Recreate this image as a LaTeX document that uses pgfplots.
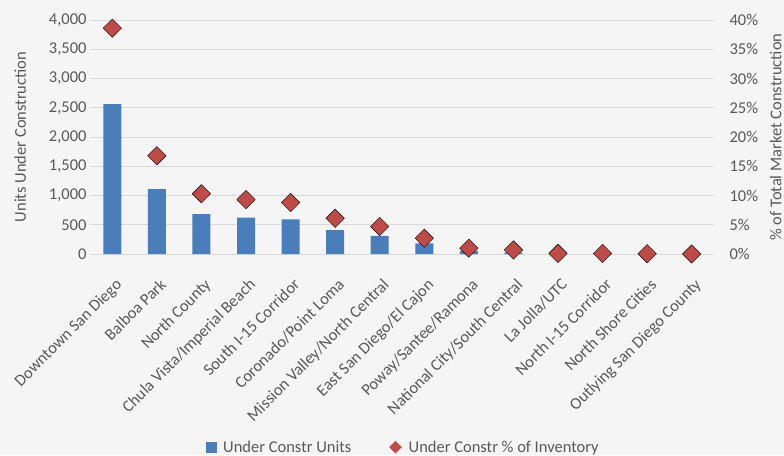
\documentclass[border=0pt]{standalone}
\usepackage{pgfplots}
\pgfplotsset{compat=1.18}
\usepackage{fontspec}
\setmainfont{Carlito}
\usetikzlibrary{backgrounds}
\definecolor{barblue}{HTML}{4A7EBB}
\definecolor{dred}{HTML}{BE4B48}
\definecolor{gridgray}{HTML}{D9D9D9}
\definecolor{txt}{HTML}{595959}
\definecolor{bg}{HTML}{F5F5F5}
\begin{document}
\begin{tikzpicture}[font=\fontsize{16.5}{19}\selectfont]
\pgfplotsset{
  common/.style={
    scale only axis, width=624pt, height=234pt,
    at={(0,0)}, anchor=south west,
    xmin=-0.5, xmax=13.5,
    axis line style={draw=none},
    major tick length=0pt,
    tick label style={text=txt},
    label style={text=txt},
    /pgf/number format/assume math mode=true,
  }
}
\begin{axis}[common,
  ymin=0, ymax=4000, ytick={0,500,...,4000},
  ymajorgrids, grid style={gridgray, line width=0.9pt},
  scaled y ticks=false,
  yticklabel style={/pgf/number format/.cd, 1000 sep={,}},
  xtick={0,...,13},
  xticklabels={Downtown San Diego, Balboa Park, North County,
    Chula Vista/Imperial Beach, South I-15 Corridor, Coronado/Point Loma,
    Mission Valley/North Central, East San Diego/El Cajon,
    Poway/Santee/Ramona, National City/South Central, La Jolla/UTC,
    North I-15 Corridor, North Shore Cities, Outlying San Diego County},
  xticklabel style={rotate=45, anchor=north east, inner sep=1pt, xshift=-14pt, yshift=-17pt},
  ylabel={Units Under Construction},
  ylabel style={at={(axis description cs:-0.112,0.5)}, anchor=center, rotate=0},
]
\addplot[ybar, bar width=18pt, fill=barblue, draw=none] coordinates {
  (0,2560) (1,1110) (2,680) (3,620) (4,590) (5,410) (6,310)
  (7,180) (8,55) (9,25) (10,12) (11,0) (12,0) (13,0)
};
\end{axis}
\begin{axis}[common,
  ymin=0, ymax=40, ytick={0,5,...,40},
  yticklabel pos=right, xtick=\empty,
  yticklabel={\pgfmathprintnumber{\tick}\%},
  yticklabel style={anchor=west, xshift=12pt},
  ylabel={\% of Total Market Construction},
  ylabel style={at={(axis description cs:1.099,0.5)}, anchor=center, rotate=0},
  legend columns=2,
  legend style={at={(0.502,-0.825)}, anchor=center, draw=none, fill=none,
    text=txt, column sep=5pt, /tikz/every even column/.append style={column sep=36pt}},
]
\addlegendimage{legend image code/.code={\fill[barblue] (0pt,-5pt) rectangle (10pt,5pt);}}
\addlegendentry{Under Constr Units}
\addplot[only marks, mark=square*, mark size=6.5pt, mark options={rotate=45, fill=dred, draw=none},
  legend image code/.code={\fill[dred] (5pt,-6pt) -- (11pt,0pt) -- (5pt,6pt) -- (-1pt,0pt) -- cycle;}] coordinates {
  (0,38.6) (1,16.8) (2,10.3) (3,9.3) (4,8.8) (5,6.1) (6,4.7)
  (7,2.7) (8,1.0) (9,0.7) (10,0.1) (11,0.1) (12,0.05) (13,0.0)
};
\addlegendentry{Under Constr \% of Inventory}
\end{axis}
\pgfresetboundingbox
\useasboundingbox (-90pt,-201pt) rectangle (694pt,254pt);
\begin{pgfonlayer}{background}
\fill[bg] (-90pt,-201pt) rectangle (694pt,254pt);
\end{pgfonlayer}
\end{tikzpicture}
\end{document}
